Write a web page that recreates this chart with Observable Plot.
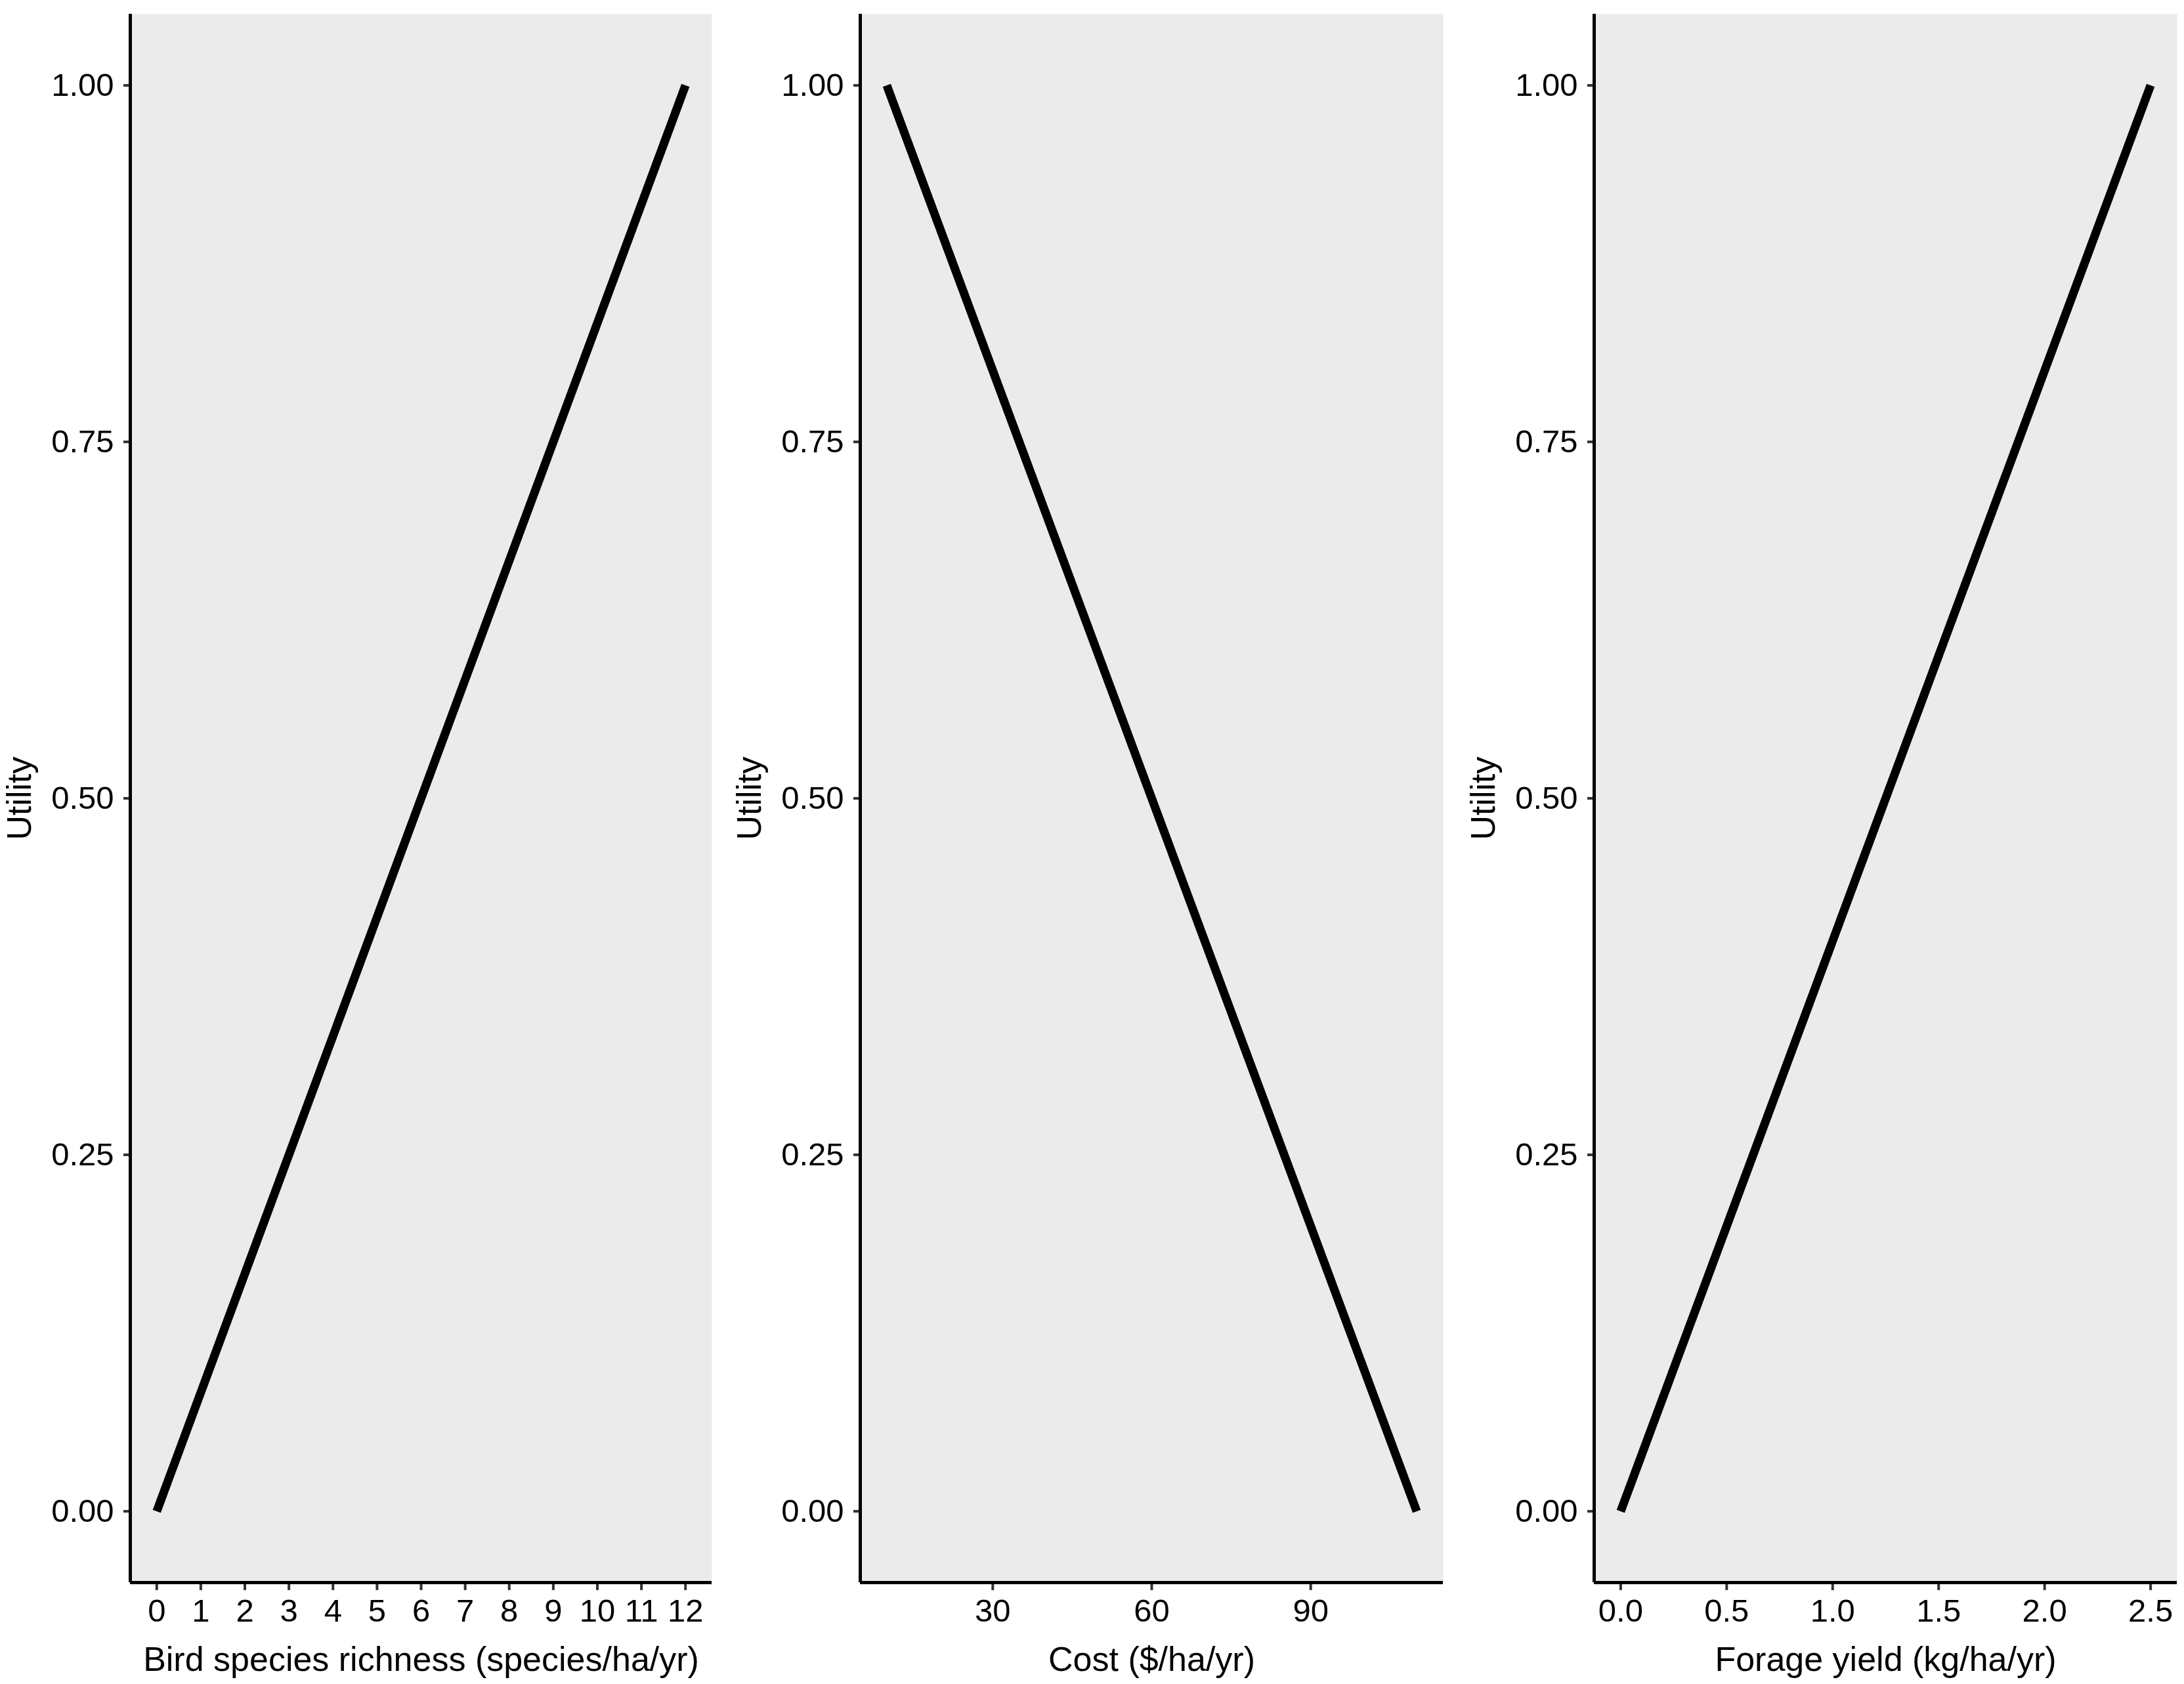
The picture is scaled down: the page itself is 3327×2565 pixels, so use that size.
<!DOCTYPE html>
<html>
<head>
<meta charset="utf-8">
<script src="https://cdn.jsdelivr.net/npm/d3@7"></script>
<script src="https://cdn.jsdelivr.net/npm/@observablehq/plot@0.6"></script>
<style>
  html, body { margin: 0; padding: 0; background: white; }
  #row { display: flex; flex-direction: row; width: 3327px; height: 2565px; }
  #row > div { width: 1109px; height: 2565px; }
  svg { display: block; }
</style>
</head>
<body>
<div id="row"><div id="p1"></div><div id="p2"></div><div id="p3"></div></div>
<script>
// ---- data ----
const birdRichness = [0, 12];
const birdUtility = [0, 1];
const costValues = [10, 110];
const costUtility = [1, 0];
const forageYield = [0, 2.5];
const forageUtility = [0, 1];

const birdTicks = [0, 1, 2, 3, 4, 5, 6, 7, 8, 9, 10, 11, 12];
const costTicks = [30, 60, 90];
const forageTicks = [0, 0.5, 1.0, 1.5, 2.0, 2.5];
const utilityTicks = [0, 0.25, 0.5, 0.75, 1.0];

const panels = [
  {id: "p1", xs: birdRichness, ys: birdUtility, ticks: birdTicks, fmt: d3.format("d"),
   label: "Bird species richness (species/ha/yr)", ml: 198, mr: 25},
  {id: "p2", xs: costValues, ys: costUtility, ticks: costTicks, fmt: d3.format("d"),
   label: "Cost ($/ha/yr)", ml: 201, mr: 20},
  {id: "p3", xs: forageYield, ys: forageUtility, ticks: forageTicks, fmt: d3.format(".1f"),
   label: "Forage yield (kg/ha/yr)", ml: 210, mr: 11}
];

function expand(arr) {
  const [lo, hi] = d3.extent(arr);
  const pad = (hi - lo) * 0.05;
  return [lo - pad, hi + pad];
}

const tickFont = 49;
const titleFont = 52;

for (const p of panels) {
  const data = p.xs.map((x, i) => ({x, y: p.ys[i]}));
  const xd = expand(p.xs);
  const yd = expand(p.ys);
  const chart = Plot.plot({
    width: 1109,
    height: 2565,
    marginLeft: p.ml,
    marginRight: p.mr,
    marginTop: 21,
    marginBottom: 155,
    style: {fontFamily: "'Liberation Sans', Arial, sans-serif", background: "white", color: "black"},
    x: {domain: xd},
    y: {domain: yd},
    marks: [
      Plot.frame({fill: "#EBEBEB", stroke: "none"}),
      Plot.axisX({ticks: p.ticks, tickFormat: p.fmt, tickSize: 12, tickPadding: 13,
                  fontSize: tickFont, stroke: "#333", strokeWidth: 4, fill: "black", label: null}),
      Plot.axisY({ticks: utilityTicks, tickFormat: d3.format(".2f"), tickSize: 10, tickPadding: 15,
                  fontSize: tickFont, stroke: "#333", strokeWidth: 4, fill: "black", label: null}),
      Plot.ruleX([xd[0]], {stroke: "black", strokeWidth: 5}),
      Plot.ruleY([yd[0]], {stroke: "black", strokeWidth: 5}),
      Plot.line(data, {x: "x", y: "y", stroke: "black", strokeWidth: 13, strokeLinecap: "butt"}),
      Plot.text([p.label], {text: d => d, frameAnchor: "bottom", textAnchor: "middle", dy: 134, fontSize: titleFont, fill: "black"}),
      Plot.text(["Utility"], {text: d => d, frameAnchor: "left", textAnchor: "middle", rotate: -90, dx: -168, fontSize: titleFont, fill: "black"})
    ]
  });
  document.getElementById(p.id).appendChild(chart);
}
</script>
</body>
</html>
